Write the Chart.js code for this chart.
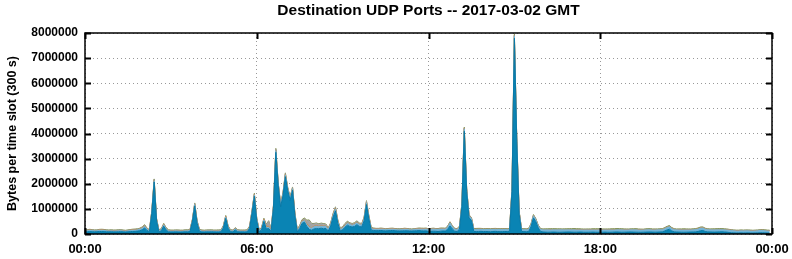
<!DOCTYPE html>
<html>
<head>
<meta charset="utf-8">
<script src="https://cdn.jsdelivr.net/npm/chart.js@4/dist/chart.umd.min.js"></script>
<style>
  html,body{margin:0;padding:0;background:#fff;}
  #wrap{width:792px;height:259px;}
</style>
</head>
<body>
<div id="wrap"><canvas id="chart" width="792" height="259"></canvas></div>
<script>
// 288 five-minute slots, 2017-03-02
const titleText = 'Destination UDP Ports -- 2017-03-02 GMT';
const yTitle = 'Bytes per time slot (300 s)';
const hourTicks = ['00:00','06:00','12:00','18:00','00:00'];
const yTicks = [0,1000000,2000000,3000000,4000000,5000000,6000000,7000000,8000000];

const bluePort = [
  85000,90000,95000,92000,88000,90000,100000,98000,95000,90000,86000,88000,
  85000,82000,88000,92000,85000,80000,86000,95000,100000,105000,115000,130000,
  170000,240000,140000,90000,820000,2070000,520000,80000,130000,310000,160000,85000,
  80000,82000,85000,80000,78000,82000,88000,85000,95000,480000,1120000,430000,
  100000,82000,80000,85000,82000,88000,84000,80000,82000,86000,240000,620000,
  230000,90000,85000,160000,90000,82000,85000,80000,86000,220000,820000,1500000,
  520000,90000,160000,500000,200000,220000,100000,1020000,3250000,1920000,1080000,1520000,
  2280000,1720000,1340000,1740000,720000,80000,220000,420000,470000,300000,180000,150000,
  200000,220000,210000,230000,210000,220000,120000,320000,670000,920000,420000,120000,
  170000,270000,350000,300000,280000,300000,370000,300000,280000,520000,1170000,600000,
  150000,140000,130000,135000,140000,130000,125000,130000,135000,140000,130000,125000,
  120000,125000,130000,128000,122000,118000,125000,130000,135000,128000,120000,125000,
  100000,105000,110000,108000,100000,110000,120000,115000,180000,320000,200000,110000,
  100000,190000,1090000,4090000,1690000,640000,540000,100000,95000,100000,105000,98000,
  100000,95000,90000,100000,105000,98000,92000,95000,100000,95000,110000,1690000,
  7790000,3690000,790000,100000,95000,90000,100000,290000,640000,490000,240000,100000,
  80000,75000,70000,72000,78000,75000,70000,68000,72000,75000,78000,80000,
  75000,70000,72000,75000,78000,70000,68000,70000,72000,75000,70000,68000,
  70000,72000,75000,70000,68000,72000,78000,80000,75000,70000,72000,75000,
  78000,80000,75000,72000,70000,68000,72000,75000,78000,80000,75000,72000,
  75000,80000,85000,120000,160000,190000,120000,85000,80000,75000,72000,70000,
  72000,75000,78000,80000,85000,100000,130000,140000,100000,85000,80000,78000,
  75000,80000,85000,90000,80000,75000,60000,50000,45000,40000,42000,45000,
  40000,42000,45000,40000,38000,42000,45000,48000,50000,45000,42000,40000
];

const lightPort = [
  40000,42000,45000,43000,40000,38000,42000,45000,44000,40000,38000,40000,
  38000,40000,42000,40000,38000,36000,40000,42000,45000,48000,50000,55000,
  60000,70000,50000,45000,50000,60000,50000,42000,45000,60000,50000,42000,
  40000,38000,40000,42000,40000,38000,40000,42000,45000,50000,60000,50000,
  45000,40000,38000,40000,42000,40000,38000,40000,42000,40000,50000,60000,
  50000,42000,40000,50000,42000,40000,38000,40000,42000,50000,60000,60000,
  60000,45000,50000,60000,60000,60000,50000,60000,80000,70000,70000,70000,
  80000,70000,70000,70000,60000,50000,60000,70000,70000,70000,80000,80000,
  90000,90000,80000,80000,85000,80000,70000,70000,80000,80000,70000,60000,
  60000,70000,80000,80000,75000,80000,80000,75000,75000,80000,80000,70000,
  60000,55000,55000,50000,52000,55000,50000,48000,50000,52000,50000,48000,
  50000,52000,55000,52000,50000,48000,50000,55000,58000,60000,65000,70000,
  75000,80000,82000,78000,80000,85000,80000,78000,90000,120000,90000,80000,
  80000,85000,90000,100000,90000,85000,80000,78000,80000,82000,80000,78000,
  80000,82000,85000,80000,78000,80000,82000,85000,80000,78000,80000,90000,
  100000,90000,85000,80000,78000,80000,82000,85000,90000,85000,80000,78000,
  85000,90000,95000,92000,88000,90000,95000,100000,95000,90000,88000,85000,
  90000,95000,92000,88000,85000,90000,95000,92000,90000,88000,92000,95000,
  92000,90000,88000,92000,95000,90000,85000,88000,92000,95000,90000,88000,
  85000,88000,92000,95000,90000,88000,85000,90000,92000,88000,85000,90000,
  92000,88000,85000,90000,95000,100000,92000,88000,85000,88000,90000,92000,
  90000,88000,85000,88000,90000,95000,100000,95000,90000,88000,85000,88000,
  90000,88000,85000,82000,85000,88000,90000,88000,85000,82000,80000,82000,
  85000,88000,85000,82000,80000,82000,85000,88000,90000,85000,82000,80000
];

const orangePort = [
  8000,9000,10000,8000,7000,8000,9000,10000,9000,8000,7000,8000,
  8000,7000,8000,9000,8000,7000,8000,9000,10000,9000,8000,9000,
  10000,12000,9000,8000,10000,12000,10000,8000,9000,10000,9000,8000,
  8000,7000,8000,9000,8000,7000,8000,9000,8000,9000,12000,10000,
  9000,8000,7000,8000,9000,8000,7000,8000,9000,8000,10000,12000,
  10000,8000,7000,9000,8000,7000,8000,9000,8000,10000,12000,12000,
  12000,9000,10000,15000,40000,25000,12000,12000,15000,12000,12000,12000,
  14000,12000,12000,12000,12000,10000,12000,14000,14000,30000,20000,15000,
  15000,14000,12000,12000,14000,12000,10000,10000,12000,14000,12000,10000,
  12000,20000,15000,12000,12000,14000,14000,12000,12000,14000,14000,12000,
  10000,9000,8000,9000,10000,9000,8000,9000,10000,9000,8000,9000,
  8000,9000,10000,9000,8000,7000,8000,9000,10000,9000,8000,7000,
  6000,5000,6000,5000,6000,5000,6000,5000,6000,8000,6000,5000,
  5000,6000,8000,10000,8000,6000,5000,5000,6000,5000,6000,5000,
  5000,6000,5000,6000,5000,6000,5000,6000,5000,6000,5000,8000,
  10000,8000,6000,5000,6000,5000,6000,5000,6000,5000,6000,5000,
  5000,6000,5000,6000,5000,6000,5000,6000,5000,6000,5000,6000,
  5000,6000,5000,6000,5000,6000,5000,6000,5000,6000,5000,6000,
  5000,6000,5000,6000,5000,6000,5000,6000,5000,6000,5000,6000,
  5000,6000,5000,6000,5000,6000,5000,6000,5000,6000,5000,6000,
  5000,6000,5000,6000,5000,6000,5000,6000,5000,6000,5000,6000,
  5000,6000,5000,6000,5000,6000,5000,6000,5000,6000,5000,6000,
  5000,6000,5000,6000,5000,6000,5000,6000,5000,6000,5000,6000,
  5000,6000,5000,6000,5000,6000,5000,6000,5000,6000,5000,6000
];

const grayPort = [
  14000,15000,16000,15000,14000,13000,15000,16000,15000,14000,13000,14000,
  13000,14000,15000,14000,13000,12000,14000,15000,16000,17000,18000,20000,
  22000,25000,18000,15000,20000,25000,20000,15000,16000,20000,18000,15000,
  14000,13000,14000,15000,14000,13000,14000,15000,16000,18000,22000,18000,
  16000,14000,13000,14000,15000,14000,13000,14000,15000,14000,18000,22000,
  18000,15000,14000,16000,15000,14000,13000,14000,15000,18000,22000,22000,
  22000,16000,20000,25000,60000,200000,40000,25000,30000,25000,25000,25000,
  30000,25000,25000,25000,25000,20000,30000,40000,50000,120000,250000,150000,
  90000,90000,80000,90000,80000,60000,30000,30000,35000,40000,30000,25000,
  30000,35000,35000,30000,30000,30000,35000,30000,30000,35000,35000,30000,
  20000,18000,16000,15000,16000,15000,14000,15000,16000,15000,14000,15000,
  14000,15000,16000,15000,14000,13000,14000,15000,16000,15000,14000,13000,
  10000,11000,12000,10000,11000,12000,10000,11000,12000,15000,12000,10000,
  10000,12000,15000,20000,15000,12000,10000,10000,11000,10000,11000,10000,
  10000,11000,10000,11000,10000,11000,10000,11000,10000,11000,10000,15000,
  20000,15000,12000,10000,11000,10000,11000,10000,12000,11000,10000,10000,
  10000,11000,10000,11000,10000,11000,10000,11000,10000,11000,10000,11000,
  10000,11000,10000,11000,10000,11000,10000,11000,10000,11000,10000,11000,
  10000,11000,10000,11000,10000,11000,10000,11000,10000,11000,10000,11000,
  10000,11000,10000,11000,10000,11000,10000,11000,10000,11000,10000,11000,
  10000,11000,10000,11000,12000,14000,12000,11000,10000,11000,10000,11000,
  10000,11000,10000,11000,10000,11000,12000,13000,10000,11000,10000,11000,
  10000,11000,10000,11000,10000,11000,10000,11000,10000,11000,10000,11000,
  10000,11000,10000,11000,10000,11000,10000,11000,10000,11000,10000,11000
];

const greenPort = [
  15000,18000,20000,16000,14000,15000,18000,20000,18000,15000,14000,15000,
  14000,15000,16000,15000,14000,13000,15000,18000,20000,18000,16000,18000,
  20000,22000,18000,15000,20000,25000,20000,15000,16000,20000,18000,15000,
  14000,15000,16000,15000,14000,13000,15000,16000,15000,18000,22000,18000,
  16000,15000,14000,15000,16000,15000,14000,15000,16000,15000,18000,22000,
  18000,15000,14000,16000,15000,14000,13000,15000,16000,18000,22000,25000,
  22000,16000,20000,25000,25000,25000,20000,25000,30000,25000,25000,25000,
  30000,25000,25000,25000,25000,20000,25000,30000,30000,30000,30000,25000,
  25000,25000,22000,22000,25000,22000,20000,20000,25000,28000,22000,20000,
  22000,25000,25000,22000,22000,25000,25000,22000,22000,25000,28000,22000,
  18000,16000,15000,16000,18000,16000,15000,16000,18000,16000,15000,16000,
  15000,16000,18000,16000,15000,14000,15000,16000,18000,20000,22000,20000,
  18000,20000,22000,18000,20000,25000,22000,20000,22000,25000,22000,20000,
  20000,22000,25000,30000,25000,22000,20000,25000,30000,28000,22000,20000,
  20000,22000,20000,22000,25000,22000,20000,22000,20000,22000,20000,25000,
  30000,25000,22000,20000,22000,20000,28000,30000,25000,22000,20000,22000,
  20000,22000,25000,28000,30000,28000,25000,22000,20000,22000,25000,28000,
  30000,32000,30000,28000,25000,22000,20000,22000,25000,28000,30000,28000,
  25000,22000,20000,22000,25000,28000,30000,32000,30000,28000,25000,22000,
  20000,22000,25000,28000,25000,22000,20000,22000,25000,28000,25000,22000,
  20000,22000,25000,28000,30000,28000,25000,22000,20000,22000,25000,28000,
  25000,22000,20000,22000,25000,28000,30000,28000,25000,22000,20000,22000,
  25000,28000,30000,28000,25000,22000,20000,18000,16000,15000,16000,18000,
  16000,15000,16000,18000,16000,15000,16000,18000,20000,18000,16000,15000
];

const seriesList = [
  {name:'blue', data:bluePort, color:'#0a84b4', line:'#0878a6'},
  {name:'light', data:lightPort, color:'#72b4d8', line:'#72b4d8'},
  {name:'orange', data:orangePort, color:'#e07a22', line:'#e07a22'},
  {name:'gray', data:grayPort, color:'#a3a3a3', line:'#a3a3a3'},
  {name:'green', data:greenPort, color:'#86a646', line:'#7d8a4a'}
];

const FONT = "'Liberation Sans', Arial, Helvetica, sans-serif";

const frame = {
  id:'frame',
  afterDraw(chart){
    const {ctx, chartArea:a} = chart;
    const xs = chart.scales.x, ys = chart.scales.y;
    ctx.save();
    ctx.strokeStyle = '#000';
    ctx.lineWidth = 2;
    ctx.beginPath();
    yTicks.forEach(v=>{
      const y = Math.round(ys.getPixelForValue(v))+0.5;
      ctx.moveTo(a.left, y); ctx.lineTo(a.left+6, y);
      ctx.moveTo(a.right, y); ctx.lineTo(a.right-6, y);
    });
    [0,72,144,216,288].forEach(v=>{
      const x = Math.round(xs.getPixelForValue(v))+0.5;
      ctx.moveTo(x, a.top); ctx.lineTo(x, a.top+6);
      ctx.moveTo(x, a.bottom); ctx.lineTo(x, a.bottom-6);
    });
    ctx.stroke();
    ctx.lineWidth = 1.5;
    ctx.strokeRect(a.left, a.top, a.right-a.left, a.bottom-a.top);
    ctx.fillStyle = '#000';
    ctx.font = 'bold 15.5px ' + FONT;
    ctx.textAlign = 'center';
    ctx.textBaseline = 'middle';
    ctx.fillText(titleText, (a.left+a.right)/2, 11);
    ctx.restore();
  }
};

new Chart(document.getElementById('chart'), {
  type:'line',
  data:{
    datasets: seriesList.map((s,k)=>({
      label:s.name,
      data:s.data.map((v,i)=>({x:i, y:v})),
      backgroundColor:s.color,
      borderColor:s.line,
      borderWidth:1,
      pointRadius:0,
      tension:0,
      fill: k===0 ? 'origin' : '-1'
    }))
  },
  options:{
    responsive:false,
    animation:false,
    layout:{padding:{top:33, right:20, left:0, bottom:0}},
    plugins:{legend:{display:false}, tooltip:{enabled:false}},
    scales:{
      x:{
        type:'linear', min:0, max:288,
        afterFit(s){ s.height = 25; s.paddingLeft = 0; s.paddingRight = 0; },
        afterBuildTicks(s){ s.ticks = [0,72,144,216,288].map(v=>({value:v})); },
        ticks:{
          autoSkip:false, maxRotation:0, padding:8, color:'#000',
          font:{family:FONT, size:13, weight:'bold'},
          callback:(v,i)=>hourTicks[i]
        },
        grid:{color:'#999', drawTicks:false, lineWidth:1},
        border:{display:false, dash:[1,3]}
      },
      y:{
        stacked:true, min:0, max:8000000,
        afterFit(s){ s.width = 85; s.paddingTop = 0; s.paddingBottom = 0; },
        afterBuildTicks(s){ s.ticks = yTicks.map(v=>({value:v})); },
        ticks:{
          padding:7, color:'#000',
          font:{family:FONT, size:12, weight:'bold'},
          callback:v=>String(v)
        },
        grid:{color:'#999', drawTicks:false, lineWidth:1},
        border:{display:false, dash:[1,3]},
        title:{
          display:true, text:yTitle, color:'#000',
          font:{family:FONT, size:12.5, weight:'bold'},
          padding:{top:5, bottom:0}
        }
      }
    }
  },
  plugins:[frame]
});
</script>
</body>
</html>
